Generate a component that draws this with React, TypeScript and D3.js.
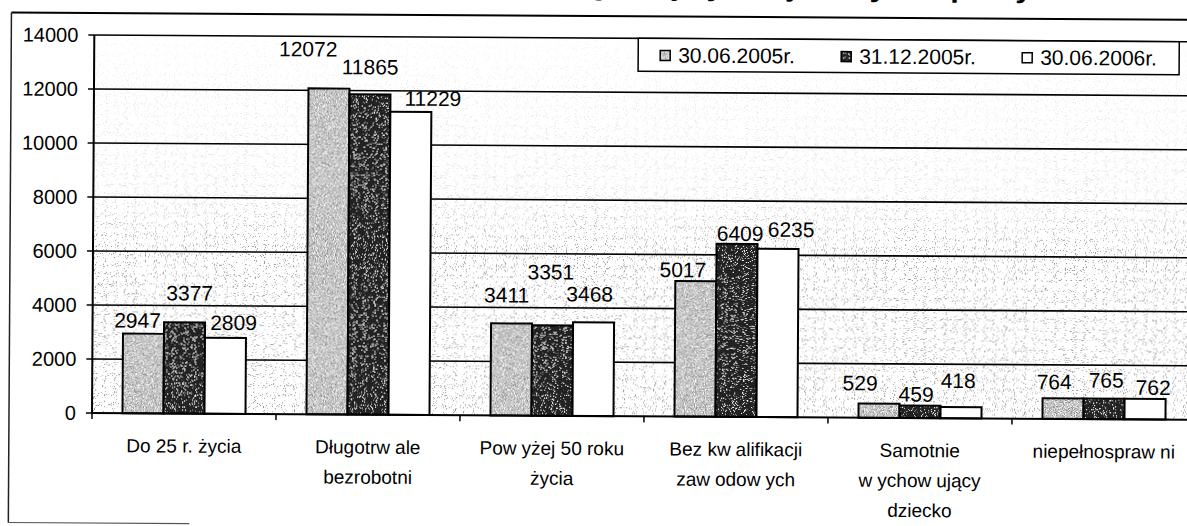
import React from "react";
import * as d3 from "d3";

// ---------- data ----------
const categories: string[][] = [
  ["Do 25 r. życia"],
  ["Długotrwale", "bezrobotni"],
  ["Powyżej 50 roku", "życia"],
  ["Bez kwalifikacji", "zawodowych"],
  ["Samotnie", "wychowujący", "dziecko"],
  ["niepełnosprawni"],
];
const seriesNames = ["30.06.2005r.", "31.12.2005r.", "30.06.2006r."];
const values2005a = [2947, 12072, 3411, 5017, 529, 764];
const values2005b = [3377, 11865, 3351, 6409, 459, 765];
const values2006 = [2809, 11229, 3468, 6235, 418, 762];
const yTicks = [0, 2000, 4000, 6000, 8000, 10000, 12000, 14000];
const titleText = "Wykres 4. Bezrobotni będący w szczególnej sytuacji na rynku pracy";

// ---------- layout (label nudges, px) ----------
const labelNudge: [number, number][][] = [
  [[-6, -6], [5, -22], [8, -8]],
  [[-21, -32], [0, -20], [22, -6]],
  [[-5, -21], [-2, -46], [-4, -21]],
  [[-13, -4], [3, -3], [13, -12]],
  [[-19, -13], [-4, -4], [-3, -19]],
  [[-9, -9], [2, -11], [8, -4]],
];
const legendX = [658, 839, 1020];

const W = 1187;
const H = 526;
const X0 = 92;
const STEP = 184;
const Y0 = 413;
const YTOP = 35;
const FONT = "'Liberation Sans', Arial, sans-serif";

const series = [values2005a, values2005b, values2006];

function SpacedW({ line }: { line: string }) {
  const parts = line.split(/(?<=w)/);
  return (
    <>
      {parts.map((p, i) => (
        <tspan key={i} dx={i === 0 ? 0 : 5}>
          {p}
        </tspan>
      ))}
    </>
  );
}

export default function App() {
  const x = d3
    .scaleBand<number>()
    .domain(d3.range(categories.length))
    .range([X0, X0 + categories.length * STEP])
    .paddingInner(0.3315)
    .paddingOuter(0.16575);
  const xi = d3.scaleBand<number>().domain([0, 1, 2]).range([0, x.bandwidth()]);
  const y = d3.scaleLinear().domain([0, 14000]).range([Y0, YTOP]);

  const barFilter = ["url(#speckGray)", "url(#speckDark)", ""];
  const barColor = ["#c6c6c6", "#242424", "#ffffff"];

  return (
    <svg
      width={W}
      height={H}
      style={{ position: "absolute", left: 0, top: 0, background: "#fff" }}
      fontFamily={FONT}
    >
      <defs>
        <filter id="speckGray" x="0" y="0" width="1" height="1">
          <feTurbulence type="fractalNoise" baseFrequency="1.1" numOctaves="2" seed="5" result="n" />
          <feColorMatrix in="n" type="matrix"
            values="0 0 0 0 0.25  0 0 0 0 0.25  0 0 0 0 0.25  9 0 0 0 -4.9" result="dk" />
          <feColorMatrix in="n" type="matrix"
            values="0 0 0 0 1  0 0 0 0 1  0 0 0 0 1  -9 0 0 0 3.9" result="wt" />
          <feMerge result="m">
            <feMergeNode in="SourceGraphic" />
            <feMergeNode in="dk" />
            <feMergeNode in="wt" />
          </feMerge>
          <feComposite in="m" in2="SourceGraphic" operator="in" />
        </filter>
        <filter id="speckDark" x="0" y="0" width="1" height="1">
          <feTurbulence type="fractalNoise" baseFrequency="1.1" numOctaves="2" seed="9" result="n" />
          <feColorMatrix in="n" type="matrix"
            values="0 0 0 0 0.9  0 0 0 0 0.9  0 0 0 0 0.9  10 0 0 0 -6.2" result="wt" />
          <feMerge result="m">
            <feMergeNode in="SourceGraphic" />
            <feMergeNode in="wt" />
          </feMerge>
          <feComposite in="m" in2="SourceGraphic" operator="in" />
        </filter>
        <filter id="stipple" x="0" y="0" width="1" height="1">
          <feTurbulence type="fractalNoise" baseFrequency="0.9" numOctaves="1" seed="3" result="n" />
          <feColorMatrix in="n" type="matrix"
            values="0 0 0 0 0.3  0 0 0 0 0.3  0 0 0 0 0.3  12 0 0 0 -7.4" result="dots" />
          <feComposite in="dots" in2="SourceGraphic" operator="in" />
        </filter>
        <linearGradient id="stippleGrad" x1="0" y1="0" x2="0" y2="1">
          <stop offset="0" stopColor="#000" stopOpacity="0.1" />
          <stop offset="0.4" stopColor="#000" stopOpacity="0.4" />
          <stop offset="0.58" stopColor="#000" stopOpacity="1" />
          <stop offset="1" stopColor="#000" stopOpacity="1" />
        </linearGradient>
      </defs>

      <g transform={`rotate(0.35, ${X0}, ${Y0})`}>
        {/* title (cut off at top of the scan) */}
        <text x={35} y={-8} fontSize={26} fontWeight="bold" textLength={995} lengthAdjust="spacingAndGlyphs">
          {titleText}
        </text>

        {/* outer frame */}
        <line x1={9} y1={13} x2={1220} y2={13} stroke="#000" strokeWidth={2} />
        <line x1={9} y1={13} x2={9} y2={523} stroke="#222" strokeWidth={1.5} />
        <line x1={9} y1={523} x2={190} y2={523} stroke="#555" strokeWidth={1.2} />

        {/* plot background stipple */}
        <rect x={X0} y={YTOP} width={1130} height={Y0 - YTOP} fill="url(#stippleGrad)" filter="url(#stipple)" />

        {/* gridlines */}
        {yTicks.filter((t) => t > 0).map((t) => (
          <line key={t} x1={X0} x2={1220} y1={y(t)} y2={y(t)} stroke="#000" strokeWidth={1.6} />
        ))}

        {/* y axis */}
        <line x1={X0} x2={X0} y1={YTOP} y2={Y0} stroke="#000" strokeWidth={2} />
        {yTicks.map((t) => (
          <g key={t}>
            <line x1={X0 - 6} x2={X0} y1={y(t)} y2={y(t)} stroke="#000" strokeWidth={1.5} />
            <text x={76} y={y(t) + 7} fontSize={20} textAnchor="end" fill="#000">
              {t}
            </text>
          </g>
        ))}

        {/* bars */}
        {categories.map((_, ci) =>
          series.map((vals, si) => {
            const bx = (x(ci) as number) + (xi(si) as number);
            const bw = xi.bandwidth();
            const by = y(vals[ci]);
            const bh = Y0 - by;
            return (
              <g key={`${ci}-${si}`}>
                <rect x={bx} y={by} width={bw} height={bh} fill={barColor[si]}
                  filter={barFilter[si] || undefined} />
                <rect x={bx} y={by} width={bw} height={bh} fill="none" stroke="#000" strokeWidth={2} />
              </g>
            );
          })
        )}

        {/* x axis */}
        <line x1={X0} x2={1220} y1={Y0} y2={Y0} stroke="#000" strokeWidth={2} />
        {d3.range(categories.length + 1).map((i) => (
          <line key={i} x1={X0 + i * STEP} x2={X0 + i * STEP} y1={Y0} y2={Y0 + 6} stroke="#000" strokeWidth={1.5} />
        ))}

        {/* value labels */}
        {categories.map((_, ci) =>
          series.map((vals, si) => {
            const cx = (x(ci) as number) + (xi(si) as number) + xi.bandwidth() / 2;
            const [dx, dy] = labelNudge[ci][si];
            return (
              <text key={`l${ci}-${si}`} x={cx + dx} y={y(vals[ci]) + dy} fontSize={21}
                textAnchor="middle" fill="#000">
                {vals[ci]}
              </text>
            );
          })
        )}

        {/* category labels */}
        {categories.map((lines, ci) => {
          const cx = (x(ci) as number) + x.bandwidth() / 2;
          return (
            <text key={`c${ci}`} x={cx} fontSize={19} textAnchor="middle" fill="#000">
              {lines.map((ln, li) => (
                <tspan key={li} x={cx} y={452 + li * 30}>
                  <SpacedW line={ln} />
                </tspan>
              ))}
            </text>
          );
        })}

        {/* legend */}
        <rect x={636} y={35} width={541} height={33} fill="#fff" stroke="#000" strokeWidth={1.5} />
        {seriesNames.map((name, si) => {
          const lx = legendX[si];
          return (
            <g key={name}>
              <rect x={lx} y={47} width={10} height={10} fill={barColor[si]}
                filter={barFilter[si] || undefined} />
              <rect x={lx} y={47} width={10} height={10} fill="none" stroke="#000" strokeWidth={1.5} />
              <text x={lx + 18} y={59} fontSize={21} fill="#000">
                {name}
              </text>
            </g>
          );
        })}
      </g>
    </svg>
  );
}
